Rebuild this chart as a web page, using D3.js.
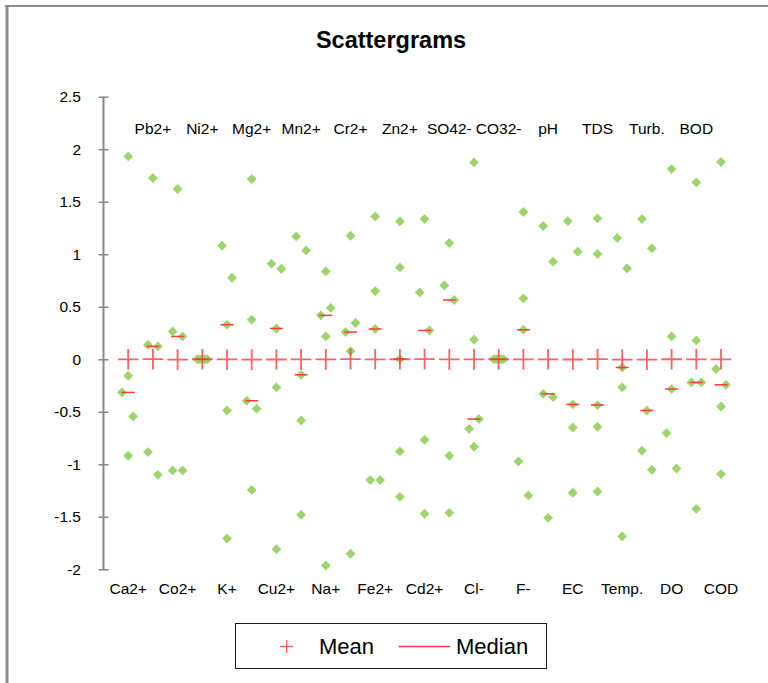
<!DOCTYPE html>
<html>
<head>
<meta charset="utf-8">
<script src="https://cdn.jsdelivr.net/npm/d3@7"></script>
<style>
  html, body { margin: 0; padding: 0; background: #fff; }
  svg { display: block; font-family: "Liberation Sans", Arial, sans-serif; }
</style>
</head>
<body>
<svg id="chart" width="768" height="683"></svg>
<script>
// Standardised water-quality parameters, five observations each
const categories = ["Ca2+", "Pb2+", "Co2+", "Ni2+", "K+", "Mg2+", "Cu2+", "Mn2+", "Na+", "Cr2+",
  "Fe2+", "Zn2+", "Cd2+", "SO42-", "Cl-", "CO32-", "F-", "pH", "EC", "TDS",
  "Temp.", "Turb.", "DO", "BOD", "COD"];

const values = [
  [1.931, -0.157, -0.316, -0.545, -0.919],   // Ca2+
  [1.726, 0.138, 0.122, -0.884, -1.100],     // Pb2+
  [1.621, 0.265, 0.217, -1.059, -1.059],     // Co2+
  [0, 0, 0, 0, 0],                           // Ni2+
  [1.081, 0.776, 0.329, -0.488, -1.707],     // K+
  [1.716, 0.376, -0.395, -0.471, -1.243],    // Mg2+
  [0.910, 0.862, 0.293, -0.268, -1.808],     // Cu2+
  [1.170, 1.036, -0.148, -0.583, -1.481],    // Mn2+
  [0.836, 0.488, 0.418, 0.217, -1.964],      // Na+
  [1.176, 0.345, 0.259, 0.078, -1.852],      // Cr2+
  [1.360, 0.649, 0.288, -1.150, -1.150],     // Fe2+
  [1.312, 0.874, 0.002, -0.878, -1.310],     // Zn2+
  [1.335, 0.636, 0.274, -0.767, -1.471],     // Cd2+
  [1.107, 0.703, 0.564, -0.919, -1.462],     // SO42-
  [1.874, 0.186, -0.570, -0.662, -0.833],    // Cl-
  [0, 0, 0, 0, 0],                           // CO32-
  [1.402, 0.579, 0.281, -0.973, -1.297],     // F-
  [1.269, 0.929, -0.329, -0.360, -1.510],    // pH
  [1.316, 1.024, -0.430, -0.650, -1.271],    // EC
  [1.341, 1.002, -0.436, -0.643, -1.259],    // TDS
  [1.154, 0.865, -0.078, -0.268, -1.687],    // Temp.
  [1.335, 1.055, -0.488, -0.871, -1.052],    // Turb.
  [1.811, 0.217, -0.284, -0.703, -1.040],    // DO
  [1.684, 0.179, -0.221, -0.221, -1.424],    // BOD
  [1.878, -0.093, -0.243, -0.450, -1.093]    // COD
];

// Horizontal jitter of each observation, in category units
const jitter = [
  [0, 0, -0.25, 0.2, 0],
  [0, -0.2, 0.2, -0.2, 0.2],
  [0, -0.2, 0.2, -0.2, 0.2],
  [-0.2, -0.1, 0, 0.1, 0.2],
  [-0.2, 0.2, 0, 0, 0],
  [0, 0, -0.2, 0.2, 0],
  [-0.2, 0.2, 0, 0, 0],
  [-0.2, 0.2, 0, 0, 0],
  [0, 0.2, -0.2, 0, 0],
  [0, 0.2, -0.2, 0, 0],
  [0, 0, 0, -0.2, 0.2],
  [0, 0, 0, 0, 0],
  [0, -0.2, 0.2, 0, 0],
  [0, -0.2, 0.2, 0, 0],
  [0, 0, 0.2, -0.2, 0],
  [-0.2, -0.1, 0, 0.1, 0.2],
  [0, 0, 0, -0.2, 0.2],
  [-0.2, 0.2, -0.2, 0.2, 0],
  [-0.2, 0.2, 0, 0, 0],
  [0, 0, 0, 0, 0],
  [-0.2, 0.2, 0, 0, 0],
  [-0.2, 0.2, 0, -0.2, 0.2],
  [0, 0, 0, -0.2, 0.2],
  [0, 0, -0.2, 0.2, 0],
  [0, -0.2, 0.2, 0, 0]
];

const yTicks = [-2, -1.5, -1, -0.5, 0, 0.5, 1, 1.5, 2, 2.5];
const legendItems = ["Mean", "Median"];

const svg = d3.select("#chart");

const x = d3.scaleLinear().domain([0, categories.length + 1]).range([103.5, 745.7]);
const y = d3.scaleLinear().domain([-2, 2.5]).range([569.3, 96.7]);

const pointColor = "#9bd56b";
const statColor = "#ff3b3b";

// Chart-area frame (top and left edges)
svg.append("line").attr("x1", 5).attr("x2", 768).attr("y1", 6).attr("y2", 6)
  .attr("stroke", "#8c8c8c").attr("stroke-width", 2);
svg.append("line").attr("x1", 7).attr("x2", 7).attr("y1", 5).attr("y2", 683)
  .attr("stroke", "#8c8c8c").attr("stroke-width", 3);

// Title
svg.append("text")
  .attr("x", 391).attr("y", 48)
  .attr("text-anchor", "middle")
  .attr("font-weight", "bold")
  .attr("font-size", 23.5)
  .attr("fill", "#000")
  .text("Scattergrams");

// Y axis
const yAxis = svg.append("g")
  .attr("transform", `translate(${x(0)},0)`)
  .call(d3.axisLeft(y).tickValues(yTicks).tickSize(5).tickPadding(17.5)
    .tickFormat(d => String(d)));
yAxis.select(".domain").attr("stroke", "#868686").attr("stroke-width", 2)
  .attr("d", `M0,${y(2.5)}V${y(-2)}`);
yAxis.selectAll(".tick line").attr("x1", -5).attr("x2", 5)
  .attr("stroke", "#868686").attr("stroke-width", 1.5);
yAxis.selectAll(".tick text").attr("font-size", 15.5).attr("fill", "#000")
  .attr("font-family", "'Liberation Sans', Arial, sans-serif");

// Category labels, alternating below and above the plot
svg.append("g").selectAll("text")
  .data(categories)
  .join("text")
  .attr("x", (d, i) => x(i + 1))
  .attr("y", (d, i) => i % 2 === 0 ? 593.5 : 133.5)
  .attr("text-anchor", "middle")
  .attr("font-size", 15.5)
  .attr("fill", "#000")
  .text(d => d);

// Observations as diamonds
const pts = [];
values.forEach((vals, i) => vals.forEach((v, j) => pts.push({ cx: i + 1 + jitter[i][j], v })));
const diamond = r => `M0,${-r}L${r},0L0,${r}L${-r},0Z`;
svg.append("g").selectAll("path")
  .data(pts)
  .join("path")
  .attr("transform", d => `translate(${x(d.cx)},${y(d.v)})`)
  .attr("d", diamond(4.9))
  .attr("fill", pointColor);

// Medians
const stats = values.map((vals, i) => ({ i, mean: d3.mean(vals), median: d3.median(vals) }));
svg.append("g").selectAll("line")
  .data(stats)
  .join("line")
  .attr("x1", d => x(d.i + 1) - 6.5)
  .attr("x2", d => x(d.i + 1) + 6.5)
  .attr("y1", d => y(d.median))
  .attr("y2", d => y(d.median))
  .attr("stroke", statColor)
  .attr("stroke-width", 1.5);

// Means as crosses
const cross = s => `M${-s},0H${s}M0,${-s}V${s}`;
svg.append("g").selectAll("path")
  .data(stats)
  .join("path")
  .attr("transform", d => `translate(${x(d.i + 1)},${y(d.mean)})`)
  .attr("d", cross(10.3))
  .attr("stroke", statColor)
  .attr("stroke-opacity", 0.8)
  .attr("stroke-width", 1.8)
  .attr("fill", "none");

// Legend
const lg = svg.append("g");
lg.append("rect").attr("x", 235.5).attr("y", 623.5).attr("width", 311).attr("height", 45)
  .attr("fill", "#fff").attr("stroke", "#1a1a1a").attr("stroke-width", 1);
lg.append("path").attr("transform", "translate(286.7,646.5)").attr("d", cross(6.5))
  .attr("stroke", statColor).attr("stroke-opacity", 0.8).attr("stroke-width", 1.3).attr("fill", "none");
lg.append("text").attr("x", 319).attr("y", 654).attr("font-size", 22).attr("fill", "#000").text(legendItems[0]);
lg.append("line").attr("x1", 398.5).attr("x2", 450).attr("y1", 646.5).attr("y2", 646.5)
  .attr("stroke", statColor).attr("stroke-width", 1.3);
lg.append("text").attr("x", 456).attr("y", 654).attr("font-size", 22).attr("fill", "#000").text(legendItems[1]);
</script>
</body>
</html>
